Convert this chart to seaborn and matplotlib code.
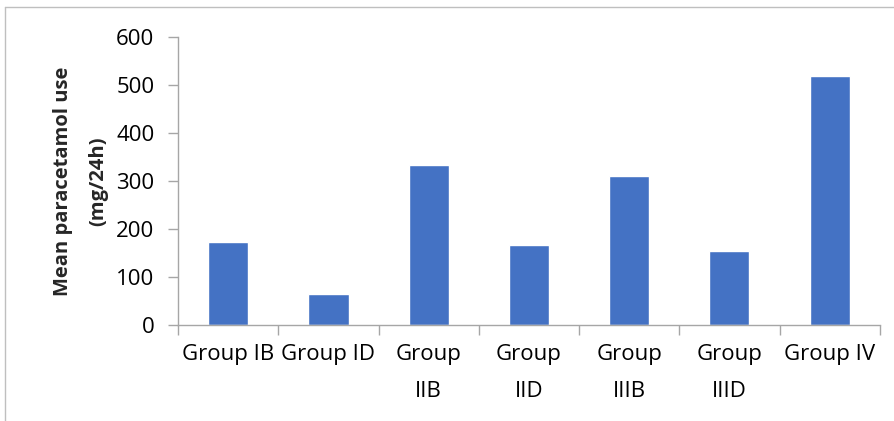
import matplotlib
matplotlib.use("Agg")
import matplotlib.pyplot as plt
import seaborn as sns
import numpy as np
from matplotlib.lines import Line2D

# chart data
groups = ["Group IB", "Group ID", "Group\nIIB", "Group\nIID", "Group\nIIIB", "Group\nIIID", "Group IV"]
mean_use = [172, 65, 333, 167, 311, 155, 519]

sns.set_style("white")
plt.rcParams["font.family"] = ["Open Sans", "DejaVu Sans"]

fig = plt.figure(figsize=(8.95, 4.21), dpi=100)
ax = fig.add_axes([0.199, 0.228, 0.784, 0.684])

sns.barplot(x=groups, y=mean_use, color="#4472C4", saturation=1, width=0.4, ax=ax)

axis_grey = "#A6A6A6"
ax.set_xlim(-0.5, 6.5)
ax.set_ylim(0, 600)
ax.set_yticks(np.arange(0, 601, 100))
ax.tick_params(axis="y", labelsize=16, labelcolor="black", length=7, color=axis_grey, width=1, left=True, pad=10)
ax.tick_params(axis="x", labelsize=16, labelcolor="black", length=0, pad=14)
for lbl in ax.get_xticklabels():
    lbl.set_linespacing(1.95)
ax.set_xticks(np.arange(-0.5, 7, 1), minor=True)
ax.tick_params(axis="x", which="minor", length=7, color=axis_grey, width=1, bottom=True)

for side in ["top", "right"]:
    ax.spines[side].set_visible(False)
for side in ["left", "bottom"]:
    ax.spines[side].set_color(axis_grey)
    ax.spines[side].set_linewidth(1)

ax.set_ylabel("Mean paracetamol use\n(mg/24h)", fontsize=14.5, fontweight="bold",
              labelpad=6, linespacing=2.0)

# outer chart frame (top and left edges visible)
fig.add_artist(Line2D([5 / 895, 1], [1 - 7 / 421, 1 - 7 / 421], color="#BFBFBF", lw=1, transform=fig.transFigure))
fig.add_artist(Line2D([5 / 895, 5 / 895], [0, 1 - 7 / 421], color="#BFBFBF", lw=1, transform=fig.transFigure))

fig.savefig("out.png", dpi=100)
